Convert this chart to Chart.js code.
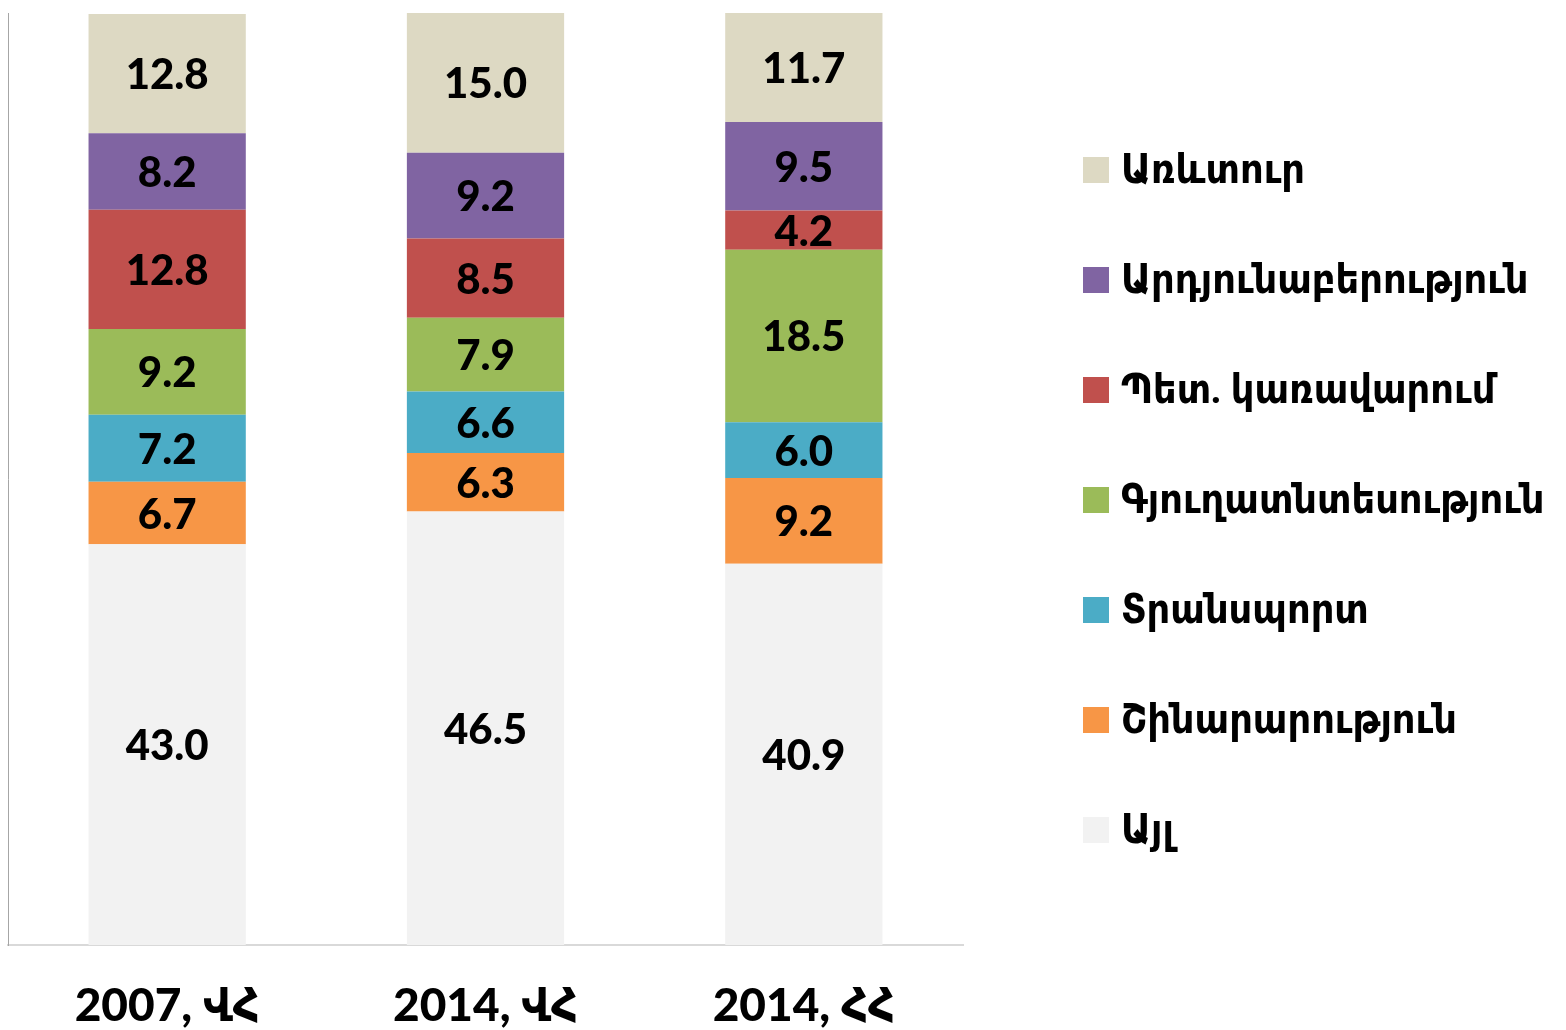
<!DOCTYPE html>
<html>
<head>
<meta charset="utf-8">
<script src="https://cdn.jsdelivr.net/npm/chart.js@4.4.1/dist/chart.umd.min.js"></script>
<style>
  html, body { margin: 0; padding: 0; background: #fff; }
  #wrap { width: 1566px; height: 1030px; }
</style>
</head>
<body>
<div id="wrap"><canvas id="shareChart"></canvas></div>
<script>
var categories = ["2007, ՎՀ", "2014, ՎՀ", "2014, ՀՀ"];

var other        = [43.0, 46.5, 40.9];
var construction = [6.7, 6.3, 9.2];
var transport    = [7.2, 6.6, 6.0];
var agriculture  = [9.2, 7.9, 18.5];
var publicAdmin  = [12.8, 8.5, 4.2];
var industry     = [8.2, 9.2, 9.5];
var trade        = [12.8, 15.0, 11.7];

var seriesNames = ["Այլ", "Շինարարություն", "Տրանսպորտ", "Գյուղատնտեսություն",
  "Պետ. կառավարում", "Արդյունաբերություն", "Առևտուր"];
var seriesData = [other, construction, transport, agriculture, publicAdmin, industry, trade];
var seriesColors = ["#F2F2F2", "#F79646", "#4BACC6", "#9BBB59", "#C0504D", "#8064A2", "#DDD9C3"];

var FONT = "Lato, 'DejaVu Sans Condensed', 'DejaVu Sans', sans-serif";

// values in the middle of each segment
var segmentLabels = {
  id: "segmentLabels",
  afterDatasetsDraw: function (chart) {
    var ctx = chart.ctx;
    ctx.save();
    ctx.font = "900 42px " + FONT;
    ctx.fillStyle = "#000";
    ctx.textAlign = "center";
    ctx.textBaseline = "middle";
    chart.data.datasets.forEach(function (ds, i) {
      chart.getDatasetMeta(i).data.forEach(function (bar, j) {
        var mid = (bar.y + bar.base) / 2;
        ctx.fillText(ds.data[j].toFixed(1), bar.x, mid + 2);
      });
    });
    ctx.restore();
  }
};

// legend drawn on the right, top item = top segment
var sideLegend = {
  id: "sideLegend",
  afterDraw: function (chart) {
    var ctx = chart.ctx;
    var ds = chart.data.datasets.slice().reverse();
    ctx.save();
    ctx.font = "bold 41px " + FONT;
    ctx.textAlign = "left";
    ctx.textBaseline = "middle";
    ds.forEach(function (d, k) {
      var y = 170 + k * 110;
      ctx.fillStyle = d.backgroundColor;
      ctx.fillRect(1083, y - 13, 26, 26);
      ctx.fillStyle = "#000";
      ctx.fillText(d.label, 1121, y);
    });
    ctx.restore();
  }
};

document.addEventListener("DOMContentLoaded", function () {
  var ctx = document.getElementById("shareChart").getContext("2d");
  new Chart(ctx, {
    type: "bar",
    data: {
      labels: categories,
      datasets: seriesData.map(function (vals, i) {
        return {
          label: seriesNames[i],
          data: vals,
          backgroundColor: seriesColors[i],
          borderWidth: 0,
          categoryPercentage: 1,
          barPercentage: 0.494
        };
      })
    },
    options: {
      responsive: true,
      maintainAspectRatio: false,
      animation: false,
      layout: { padding: { left: 8, right: 603, top: 13, bottom: 0 } },
      plugins: {
        legend: { display: false },
        tooltip: { enabled: false }
      },
      scales: {
        x: {
          stacked: true,
          grid: { display: false, drawTicks: false },
          border: { display: true, color: "#D9D9D9", width: 2 },
          afterFit: function (scale) { scale.height = 85; },
          ticks: {
            padding: 34,
            color: "#000",
            font: { family: FONT, size: 46, weight: "900" }
          }
        },
        y: {
          stacked: true,
          min: 0,
          max: 100,
          grid: { display: false, drawTicks: false },
          border: { display: true, color: "#A6A6A6", width: 1 },
          ticks: { display: false }
        }
      }
    },
    plugins: [segmentLabels, sideLegend]
  });
});
</script>
</body>
</html>
